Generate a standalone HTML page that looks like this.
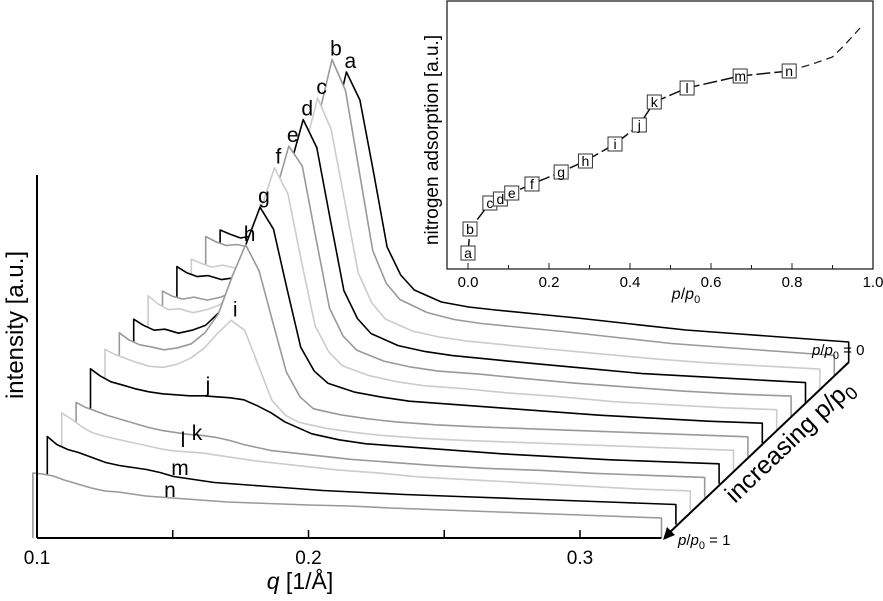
<!DOCTYPE html>
<html><head><meta charset="utf-8"><style>
html,body{margin:0;padding:0;background:#fff;}
svg{display:block;font-family:"Liberation Sans",Arial,sans-serif;}
</style></head><body>
<svg id="chart" width="883" height="601" viewBox="0 0 883 601" xmlns="http://www.w3.org/2000/svg">
<g id="curves"></g>
<g id="axes"></g>
<g id="inset"></g>
</svg>
<script>
// ---- main chart data ----
const qValues = [0.0985,0.102,0.106,0.110,0.115,0.120,0.125,0.130,0.135,0.140,0.145,0.150,0.155,0.160,0.165,0.170,0.180,0.190,0.200,0.215,0.230,0.250,0.270,0.290,0.310,0.330];
const curveLabels = ["a","b","c","d","e","f","g","h","i","j","k","l","m","n"];
const curveA = [132,128,124,126,122,125,130,145,175,232,290,262,190,115,87,72,60,55,52,48,44,38,32,28,24,20];
const curveB = [139,134,130,131,128,131,137,155,190,258,316,285,205,125,92,76,63,56,52,48,44,38,32,28,24,20];
const curveC = [130,126,122,124,121,124,130,146,178,238,291,260,188,116,86,70,58,52,48,44,40,35,30,26,23,20];
const curveD = [136,130,126,127,123,125,131,147,178,234,283,255,183,112,84,69,57,51,47,43,39,34,29,26,23,20];
const curveE = [125,120,117,119,116,119,125,140,170,222,270,250,178,108,80,66,55,49,45,42,38,33,29,25,22,20];
const curveF = [134,126,120,121,117,120,125,139,167,220,262,236,168,104,78,64,54,48,44,41,37,33,28,25,22,20];
const curveG = [124,118,113,114,110,113,118,131,156,200,236,214,154,96,72,60,51,46,42,39,36,32,28,25,22,20];
const curveH = [124,117,112,110,107,109,113,124,143,180,212,186,135,85,60,48,42,38,35,32,30,28,26,24,22,20];
const curveI = [121,116,112,108,104,103,106,112,122,137,150,140,105,70,55,48,42,38,35,32,30,28,26,24,22,20];
const curveJ = [115,108,102,99,95,92,90,89,88,88,87,86,84,78,71,62,50,44,40,37,34,30,27,24,22,20];
const curveK = [95,90,86,82,78,74,70,67,65,63,62,60,57,53,50,47,44,41,38,35,32,29,27,24,22,20];
const curveL = [98,92,84,78,74,71,68,65,62,60,59,58,56,54,52,50,47,44,41,38,34,31,28,25,22,20];
const curveM = [88,80,75,72,67,62,59,57,55,52,48,46,44,42,41,40,38,36,34,32,30,28,26,24,22,20];
const curveN = [65,64,62,58,54,50,47,46,44,42,41,40,39,38,37,36,35,34,33,32,30,28,26,24,22,20];
const curveColors = ["#000","#999","#ccc","#000","#999","#ccc","#000","#999","#ccc","#000","#999","#ccc","#000","#999"];
const xTicks = [0.1,0.15,0.2,0.25,0.3];
const xTickLabels = ["0.1","","0.2","","0.3"];

// ---- inset data ----
const insetP = [0.0,0.005,0.054,0.08,0.108,0.158,0.23,0.29,0.363,0.423,0.46,0.541,0.672,0.793];
const insetV = [0.5,1.7,3.0,3.2,3.5,3.95,4.55,5.1,5.95,6.9,8.05,8.75,9.35,9.6];
const insetDashP = [0.793,0.85,0.9,0.93,0.968];
const insetDashV = [9.6,9.95,10.3,10.9,11.75];
const insetTicks = [0,0.1,0.2,0.3,0.4,0.5,0.6,0.7,0.8,0.9,1.0];
const insetTickLabels = ["0.0","","0.2","","0.4","","0.6","","0.8","","1.0"];

const NS="http://www.w3.org/2000/svg";
function mk(tag,parent,attrs){const e=document.createElementNS(NS,tag);for(const k in attrs)e.setAttribute(k,attrs[k]);parent.appendChild(e);return e;}

const X0=37, BASE=538, DX=14.4, DY=13.54;
function xq(q){return X0+(q-0.1)*2715;}
const curves=[curveA,curveB,curveC,curveD,curveE,curveF,curveG,curveH,curveI,curveJ,curveK,curveL,curveM,curveN];
const gC=document.getElementById('curves');
const nC=curves.length;
const labelPos={j:[208,392],k:[197,440],l:[183,447],m:[180,475],n:[170,497]};
curves.forEach((vals,i)=>{
  const k=nC-1-i;
  const ox=k*DX, base=BASE-k*DY;
  let pts=[[xq(qValues[0])+ox,base]];
  qValues.forEach((q,j)=>pts.push([xq(q)+ox,base-vals[j]]));
  pts.push([xq(qValues[qValues.length-1])+ox,base]);
  const d=pts.map(p=>p[0].toFixed(1)+","+p[1].toFixed(1)).join(" ");
  const poly=mk('polygon',gC,{points:d,fill:'#fff',stroke:'none'});
  
  
  const line=mk('polyline',gC,{points:d,fill:'none',stroke:curveColors[i],'stroke-width':1.6,'stroke-linejoin':'round'});
  
  
  let lx,ly;
  const L=curveLabels[i];
  if(labelPos[L]){lx=labelPos[L][0];ly=labelPos[L][1];}
  else{let mi=0;vals.forEach((v,j)=>{if(v>vals[mi])mi=j;});lx=xq(qValues[mi])+ox+4;ly=base-vals[mi]-4;}
  const t=mk('text',gC,{x:lx,y:ly,'font-size':21,'text-anchor':'middle',fill:'#000'});
  t.textContent=L;
  
  
});

const gA=document.getElementById('axes');
let ax=mk('line',gA,{x1:X0,y1:175,x2:X0,y2:BASE,stroke:'#000','stroke-width':2});


ax=mk('line',gA,{x1:X0,y1:BASE,x2:xq(qValues[qValues.length-1]),y2:BASE,stroke:'#000','stroke-width':2});


xTicks.forEach((q,i)=>{
  const tk=mk('line',gA,{x1:xq(q),y1:BASE,x2:xq(q),y2:BASE-8,stroke:'#000','stroke-width':1.5});
  
  
  if(xTickLabels[i]){
    const t=mk('text',gA,{x:xq(q),y:564,'font-size':19,'text-anchor':'middle'});
    t.textContent=xTickLabels[i];
    
    
  }
});
</script>
<script>
(function(){
const gA=document.getElementById('axes');
gA.insertAdjacentHTML('beforeend',
 '<text x="300" y="589" font-size="23" text-anchor="middle"><tspan font-style="italic">q</tspan> [1/Å]</text>'+
 '<text transform="translate(23,325) rotate(-90)" font-size="24" text-anchor="middle">intensity [a.u.]</text>'+
 '<line x1="849" y1="362" x2="668" y2="534" stroke="#000" stroke-width="2"/>'+
 '<polygon points="663,540 667,527 675,535" fill="#000"/>'+
 '<text transform="translate(795,447) rotate(-43.5)" font-size="25" text-anchor="middle">increasing p/p<tspan font-size="18" dy="6">0</tspan></text>'+
 '<text x="812" y="355" font-size="15"><tspan font-style="italic">p</tspan>/<tspan font-style="italic">p</tspan><tspan font-size="11" dy="4">0</tspan><tspan dy="-4"> = 0</tspan></text>'+
 '<text x="678" y="545" font-size="15"><tspan font-style="italic">p</tspan>/<tspan font-style="italic">p</tspan><tspan font-size="11" dy="4">0</tspan><tspan dy="-4"> = 1</tspan></text>');
})();
</script>
<script>
(function(){
const NS="http://www.w3.org/2000/svg";
function mk(tag,parent,attrs){const e=document.createElementNS(NS,tag);for(const k in attrs)e.setAttribute(k,attrs[k]);parent.appendChild(e);return e;}
const g=document.getElementById('inset');
function px(p){return 468+p*405;}
function py(v){return 263-v*20;}
const bg=mk('rect',g,{x:447,y:1,width:426,height:268,fill:'#fff',stroke:'#222','stroke-width':1.3});


insetTicks.forEach((p,i)=>{
  const tk=mk('line',g,{x1:px(p),y1:269,x2:px(p),y2:i%2?265:263,stroke:'#222','stroke-width':1});
  
  
  if(insetTickLabels[i]){
    const t=mk('text',g,{x:px(p),y:287,'font-size':15,'text-anchor':'middle'});
    t.textContent=insetTickLabels[i];
    
    
  }
});
const l1=mk('polyline',g,{points:insetP.map((p,i)=>px(p)+","+py(insetV[i])).join(" "),fill:'none',stroke:'#111','stroke-width':1.5,'stroke-dasharray':'14 4'});


const l2=mk('polyline',g,{points:insetDashP.map((p,i)=>px(p)+","+py(insetDashV[i])).join(" "),fill:'none',stroke:'#111','stroke-width':1.2,'stroke-dasharray':'8 5'});


insetP.forEach((p,i)=>{
  const x=px(p),y=py(insetV[i]);
  const r=mk('rect',g,{x:x-7,y:y-7,width:14,height:14,fill:'#fff',stroke:'#333','stroke-width':1});
  
  
  const t=mk('text',g,{x:x,y:y+5,'font-size':14,'text-anchor':'middle'});
  t.textContent=curveLabels[i];
  
  
});
g.insertAdjacentHTML('beforeend',
 '<text x="686" y="299" font-size="16" text-anchor="middle"><tspan font-style="italic">p</tspan>/<tspan font-style="italic">p</tspan><tspan font-size="11" dy="4">0</tspan></text>'+
 '<text transform="translate(438,140) rotate(-90)" font-size="19" text-anchor="middle">nitrogen adsorption [a.u.]</text>');
})();
</script>
</body></html>
